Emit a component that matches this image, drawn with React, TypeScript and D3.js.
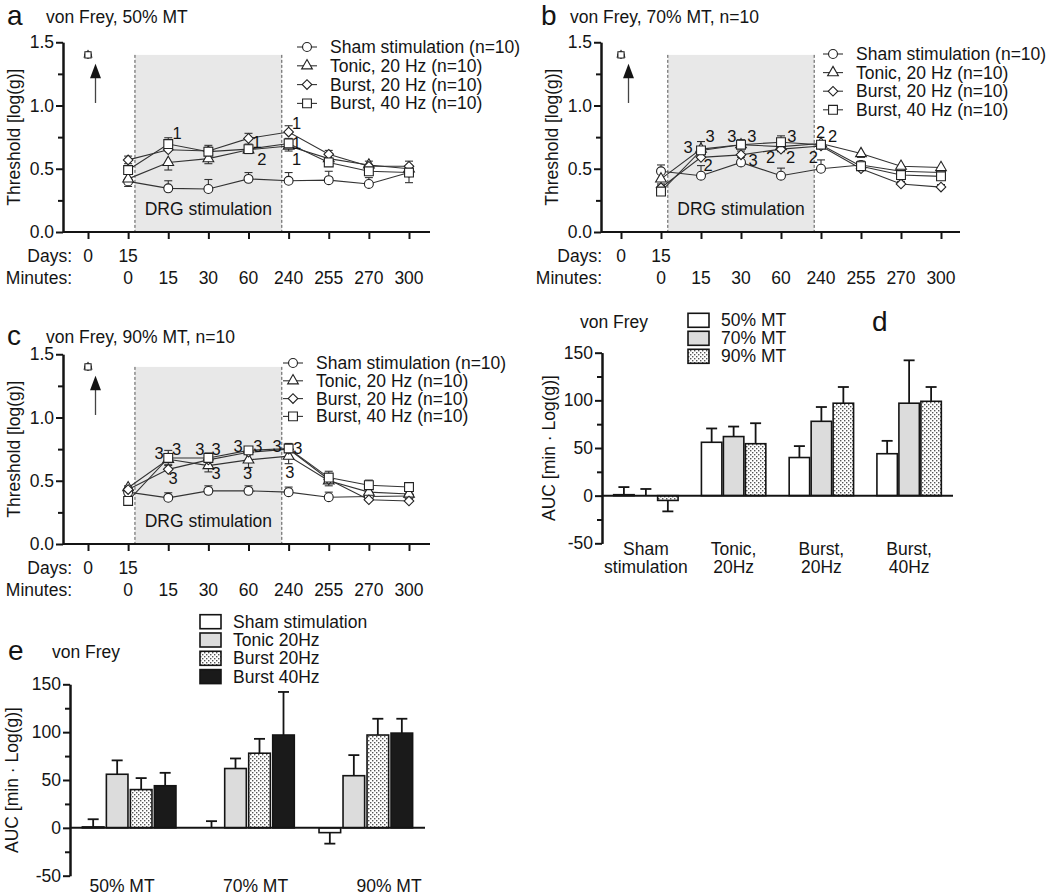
import React, { useRef, useEffect } from 'react';
import * as d3 from 'd3';

const FONT = '"Liberation Sans", Arial, Helvetica, sans-serif';
const INK = '#141414';

// x index: 0 = day 0, 1..8 = minutes 0..300 on day 15
const dayLabels = ['0', '15'];
const minuteLabels = ['0', '15', '30', '60', '240', '255', '270', '300'];
const seriesNames = ['Sham stimulation (n=10)', 'Tonic, 20 Hz (n=10)', 'Burst, 20 Hz (n=10)', 'Burst, 40 Hz (n=10)'];
const errDir = [1, -1, 1, 1]; // sham and burst SEM drawn above, tonic below
const shadeFrom = 1.17;
const shadeTo = 4.83;

// Threshold [log(g)] - 50% MT
const shamA = [1.4, 0.40, 0.345, 0.34, 0.42, 0.405, 0.41, 0.38, 0.47];
const tonicA = [1.4, 0.42, 0.55, 0.58, 0.65, 0.68, 0.58, 0.53, 0.50];
const burst20A = [1.4, 0.57, 0.65, 0.64, 0.74, 0.79, 0.615, 0.52, 0.52];
const burst40A = [1.4, 0.49, 0.695, 0.635, 0.655, 0.70, 0.55, 0.48, 0.47];
const semShamA = [0, 0.06, 0.06, 0.075, 0.05, 0.065, 0.07, 0.05, 0.05];
const semTonicA = [0, 0.06, 0.06, 0.04, 0.03, 0.04, 0.03, 0.03, 0.11];
const semBurst20A = [0, 0.03, 0.03, 0.03, 0.04, 0.05, 0.03, 0.04, 0.04];
const semBurst40A = [0, 0.05, 0.05, 0.05, 0.04, 0.04, 0.03, 0.04, 0.04];
const marksA = [
  { i: 2.22, v: 0.78, t: '1' }, { i: 4.21, v: 0.71, t: '1' }, { i: 4.33, v: 0.58, t: '2' },
  { i: 5.2, v: 0.86, t: '1' }, { i: 5.2, v: 0.705, t: '1' }, { i: 5.2, v: 0.58, t: '1' },
];

// 70% MT
const shamB = [1.4, 0.48, 0.445, 0.55, 0.445, 0.50, 0.53, 0.48, 0.47];
const tonicB = [1.4, 0.42, 0.655, 0.69, 0.675, 0.70, 0.62, 0.52, 0.51];
const burst20B = [1.4, 0.35, 0.59, 0.61, 0.655, 0.68, 0.50, 0.38, 0.355];
const burst40B = [1.4, 0.32, 0.645, 0.69, 0.71, 0.69, 0.52, 0.45, 0.44];
const semShamB = [0, 0.05, 0.08, 0.04, 0.06, 0.07, 0.03, 0.03, 0.03];
const semTonicB = [0, 0.05, 0.04, 0.03, 0.04, 0.03, 0.03, 0.03, 0.03];
const semBurst20B = [0, 0.03, 0.05, 0.03, 0.03, 0.03, 0.03, 0.02, 0.02];
const semBurst40B = [0, 0.04, 0.07, 0.04, 0.05, 0.03, 0.03, 0.04, 0.04];
const marksB = [
  { i: 1.675, v: 0.675, t: '3' }, { i: 2.225, v: 0.76, t: '3' }, { i: 2.175, v: 0.53, t: '2' },
  { i: 2.77, v: 0.76, t: '3' }, { i: 3.27, v: 0.76, t: '3' }, { i: 3.3, v: 0.57, t: '3' },
  { i: 4.27, v: 0.76, t: '3' }, { i: 3.74, v: 0.59, t: '2' }, { i: 4.24, v: 0.59, t: '2' },
  { i: 4.99, v: 0.79, t: '2' }, { i: 5.29, v: 0.76, t: '2' }, { i: 4.81, v: 0.595, t: '2' },
];

// 90% MT
const shamC = [1.4, 0.41, 0.365, 0.42, 0.42, 0.41, 0.37, 0.375, 0.38];
const tonicC = [1.4, 0.445, 0.67, 0.62, 0.665, 0.695, 0.50, 0.41, 0.395];
const burst20C = [1.4, 0.43, 0.59, 0.665, 0.725, 0.75, 0.51, 0.35, 0.34];
const burst40C = [1.4, 0.34, 0.68, 0.68, 0.74, 0.755, 0.525, 0.465, 0.45];
const semShamC = [0, 0.04, 0.04, 0.04, 0.04, 0.04, 0.04, 0.04, 0.04];
const semTonicC = [0, 0.04, 0.04, 0.05, 0.06, 0.06, 0.04, 0.04, 0.04];
const semBurst20C = [0, 0.03, 0.03, 0.03, 0.03, 0.03, 0.03, 0.03, 0.03];
const semBurst40C = [0, 0.04, 0.06, 0.04, 0.03, 0.04, 0.05, 0.04, 0.03];
const marksC = [
  { i: 1.77, v: 0.717, t: '3' }, { i: 2.21, v: 0.75, t: '3' }, { i: 2.12, v: 0.52, t: '3' },
  { i: 2.79, v: 0.75, t: '3' }, { i: 3.19, v: 0.75, t: '3' }, { i: 3.19, v: 0.56, t: '3' },
  { i: 3.74, v: 0.775, t: '3' }, { i: 4.23, v: 0.775, t: '3' }, { i: 3.98, v: 0.56, t: '3' },
  { i: 4.71, v: 0.775, t: '3' }, { i: 5.23, v: 0.76, t: '3' }, { i: 5.03, v: 0.57, t: '3' },
];

// AUC [min · Log(g)], order: sham, tonic 20Hz, burst 20Hz, burst 40Hz
const stimGroups = ['Sham\nstimulation', 'Tonic,\n20Hz', 'Burst,\n20Hz', 'Burst,\n40Hz'];
const stimLegend = ['Sham stimulation', 'Tonic 20Hz', 'Burst 20Hz', 'Burst 40Hz'];
const mtLevels = ['50% MT', '70% MT', '90% MT'];
const auc50 = [1, 56, 40, 44];
const auc70 = [0, 62, 78, 97];
const auc90 = [-5, 54.5, 97, 99];
const aucErr50 = [8, 14.5, 12, 13.5];
const aucErr70 = [7, 10.5, 15, 45];
const aucErr90 = [11.5, 21.5, 17, 15];

function symbolPath(kind, scale = 1) {
  const s = scale * scale;
  if (kind === 0) return d3.symbol(d3.symbolCircle, 62 * s)();
  if (kind === 1) return d3.symbol(d3.symbolTriangle, 50 * s)();
  if (kind === 2) return d3.symbol(d3.symbolSquare, 46 * s)();
  return d3.symbol(d3.symbolSquare, 78 * s)();
}

function drawSymbol(g, kind, cx, cy, scale = 1) {
  g.append('path')
    .attr('d', symbolPath(kind, scale))
    .attr('transform', `translate(${cx},${cy})` + (kind === 2 ? ' rotate(45)' : ''))
    .attr('fill', '#fff')
    .attr('stroke', '#222')
    .attr('stroke-width', 1.1);
}

function styleAxis(a) {
  a.attr('font-family', FONT).attr('font-size', 17.5).attr('color', INK);
  a.selectAll('line').attr('stroke-width', 2);
  a.selectAll('.domain').attr('stroke-width', 2);
}

function drawLinePanel(svg, p) {
  const x = d3.scaleLinear().domain([0, 8]).range([p.x0, p.x1]);
  const y = d3.scaleLinear().domain([0, 1.5]).range([p.yBase, p.yBase - 189.75]);
  const g = svg.append('g').attr('font-family', FONT).attr('fill', INK);

  g.append('text').attr('x', p.letterX).attr('y', p.titleY + 2).attr('font-size', 28).text(p.letter);
  g.append('text').attr('x', p.titleX).attr('y', p.titleY).attr('font-size', 17.5).text(p.title);

  // stimulation window
  g.append('rect')
    .attr('x', x(shadeFrom)).attr('y', y(1.4))
    .attr('width', x(shadeTo) - x(shadeFrom)).attr('height', y(0) - y(1.4))
    .attr('fill', '#e8e8e8');
  [shadeFrom, shadeTo].forEach(s => {
    g.append('line')
      .attr('x1', x(s)).attr('x2', x(s)).attr('y1', y(1.4)).attr('y2', y(0))
      .attr('stroke', '#555').attr('stroke-width', 1).attr('stroke-dasharray', '3,2');
  });
  g.append('text')
    .attr('x', x((shadeFrom + shadeTo) / 2)).attr('y', y(0.18))
    .attr('text-anchor', 'middle').attr('dominant-baseline', 'central')
    .attr('font-size', 17.5).text('DRG stimulation');

  // y axis
  g.append('g').attr('transform', `translate(${p.yAxisX},0)`)
    .call(d3.axisLeft(y).tickValues([0, 0.5, 1, 1.5]).tickFormat(d3.format('.1f')).tickSize(7).tickSizeOuter(0).tickPadding(2))
    .call(styleAxis);
  g.append('g').attr('transform', `translate(${p.yAxisX},0)`)
    .call(d3.axisLeft(y).tickValues([0.25, 0.75, 1.25]).tickFormat(() => '').tickSize(5).tickSizeOuter(0))
    .call(styleAxis);
  g.append('text')
    .attr('transform', `translate(${p.yAxisX - 43.5},${y(0.75)}) rotate(-90)`)
    .attr('text-anchor', 'middle').attr('font-size', 17.5).text('Threshold [log(g)]');

  // x axis
  g.append('line')
    .attr('x1', p.yAxisX).attr('x2', p.xEnd).attr('y1', y(0)).attr('y2', y(0))
    .attr('stroke', INK).attr('stroke-width', 2);
  g.append('g').attr('transform', `translate(0,${y(0)})`)
    .call(d3.axisBottom(x).tickValues(d3.range(9)).tickFormat(() => '').tickSize(7).tickSizeOuter(0))
    .call(styleAxis)
    .call(a => a.select('.domain').remove());

  g.append('text').attr('x', p.labelRight).attr('y', y(0) + 30).attr('text-anchor', 'end').attr('font-size', 17.5).text('Days:');
  g.append('text').attr('x', p.labelRight).attr('y', y(0) + 51.5).attr('text-anchor', 'end').attr('font-size', 17.5).text('Minutes:');
  dayLabels.forEach((t, i) => {
    g.append('text').attr('x', x(i)).attr('y', y(0) + 30).attr('text-anchor', 'middle').attr('font-size', 17.5).text(t);
  });
  minuteLabels.forEach((t, i) => {
    g.append('text').attr('x', x(i + 1)).attr('y', y(0) + 51.5).attr('text-anchor', 'middle').attr('font-size', 17.5).text(t);
  });

  // arrow after day-0 baseline
  const ax = x(0) + 7.5;
  g.append('line').attr('x1', ax).attr('x2', ax).attr('y1', y(1.02)).attr('y2', y(1.23))
    .attr('stroke', '#444').attr('stroke-width', 1.3);
  g.append('path')
    .attr('d', `M${ax},${y(1.33)}L${ax - 5.5},${y(1.215)}L${ax + 5.5},${y(1.215)}Z`)
    .attr('fill', INK);

  // series
  const line = d3.line().x(d => x(d.i)).y(d => y(d.v));
  const pts = p.series.map((vals, s) => vals.map((v, i) => ({ i, v, e: p.sems[s][i] })));
  pts.forEach(ps => {
    g.append('path').attr('d', line(ps.slice(1))).attr('fill', 'none').attr('stroke', '#333').attr('stroke-width', 1.1);
  });
  pts.forEach((ps, s) => {
    ps.slice(1).forEach(d => {
      const end = d.v + errDir[s] * d.e;
      g.append('line').attr('x1', x(d.i)).attr('x2', x(d.i)).attr('y1', y(d.v)).attr('y2', y(end))
        .attr('stroke', '#333').attr('stroke-width', 1.1);
      g.append('line').attr('x1', x(d.i) - 4).attr('x2', x(d.i) + 4).attr('y1', y(end)).attr('y2', y(end))
        .attr('stroke', '#333').attr('stroke-width', 1.1);
    });
  });
  pts.forEach((ps, s) => {
    ps.forEach(d => drawSymbol(g, s, x(d.i), y(d.v), d.i === 0 ? 0.7 : 1));
  });

  p.marks.forEach(m => {
    g.append('text').attr('x', x(m.i)).attr('y', y(m.v))
      .attr('text-anchor', 'middle').attr('dominant-baseline', 'central')
      .attr('font-size', 16.5).text(m.t);
  });

  // legend
  seriesNames.forEach((name, s) => {
    const ly = p.legendY + s * p.legendDy;
    g.append('line').attr('x1', p.legendX - 10).attr('x2', p.legendX + 10).attr('y1', ly).attr('y2', ly)
      .attr('stroke', '#333').attr('stroke-width', 1.1);
    drawSymbol(g, s, p.legendX, ly);
    g.append('text').attr('x', p.legendX + 23).attr('y', ly).attr('dominant-baseline', 'central')
      .attr('font-size', 17.5).text(name);
  });
}

function drawBarPanel(svg, p) {
  const y = d3.scaleLinear().domain([-50, 150]).range([p.yBottom, p.yTop]);
  const x0 = d3.scaleBand().domain(p.groups).range([p.yAxisX, p.xEnd]);
  const x1 = d3.scaleBand().domain(p.keys).range([-p.half, p.half]).paddingInner(p.padInner);
  const g = svg.append('g').attr('font-family', FONT).attr('fill', INK);

  if (p.letter) g.append('text').attr('x', p.letterX).attr('y', p.letterY).attr('font-size', 28).text(p.letter);
  g.append('text').attr('x', p.titleX).attr('y', p.titleY).attr('font-size', 17.5).text('von Frey');

  // bars
  p.groups.forEach((grp, gi) => {
    const cx = x0(grp) + x0.bandwidth() / 2;
    p.keys.forEach((key, ki) => {
      const v = p.values[ki][gi];
      const e = p.errs[ki][gi];
      const bx = cx + x1(key);
      g.append('rect')
        .attr('x', bx).attr('y', y(Math.max(v, 0)))
        .attr('width', x1.bandwidth()).attr('height', Math.abs(y(v) - y(0)))
        .attr('fill', p.fills[ki]).attr('stroke', INK).attr('stroke-width', 1.6);
      const end = v >= 0 ? v + e : v - e;
      const mx = bx + x1.bandwidth() / 2;
      g.append('line').attr('x1', mx).attr('x2', mx).attr('y1', y(v)).attr('y2', y(end))
        .attr('stroke', INK).attr('stroke-width', 1.8);
      g.append('line').attr('x1', mx - 5.5).attr('x2', mx + 5.5).attr('y1', y(end)).attr('y2', y(end))
        .attr('stroke', INK).attr('stroke-width', 1.8);
    });
  });

  // axes
  g.append('g').attr('transform', `translate(${p.yAxisX},0)`)
    .call(d3.axisLeft(y).tickValues([-50, 0, 50, 100, 150]).tickFormat(d => String(d)).tickSize(7).tickSizeOuter(0).tickPadding(2))
    .call(styleAxis);
  g.append('g').attr('transform', `translate(${p.yAxisX},0)`)
    .call(d3.axisLeft(y).tickValues([-25, 25, 75, 125]).tickFormat(() => '').tickSize(5).tickSizeOuter(0))
    .call(styleAxis);
  g.append('line').attr('x1', p.yAxisX).attr('x2', p.xEnd).attr('y1', y(0)).attr('y2', y(0))
    .attr('stroke', INK).attr('stroke-width', 2);
  g.append('text')
    .attr('transform', `translate(${p.yAxisX - p.labelGap},${y(50)}) rotate(-90)`)
    .attr('text-anchor', 'middle').attr('font-size', 17.5).text('AUC [min · Log(g)]');

  // group labels
  p.groups.forEach((grp, gi) => {
    const lx = p.labelPos ? p.labelPos(grp) : x0(grp) + x0.bandwidth() / 2;
    grp.split('\n').forEach((ln, li) => {
      g.append('text').attr('x', lx).attr('y', p.labelY + li * 18)
        .attr('text-anchor', 'middle').attr('font-size', 17.5).text(ln);
    });
  });

  // legend
  p.legend.forEach((name, ki) => {
    const ly = p.legendY + ki * p.legendDy;
    g.append('rect').attr('x', p.legendX).attr('y', ly - 7).attr('width', 21).attr('height', 14)
      .attr('fill', p.fills[ki]).attr('stroke', INK).attr('stroke-width', 1.6);
    g.append('text').attr('x', p.legendX + 33).attr('y', ly).attr('dominant-baseline', 'central')
      .attr('font-size', 17.5).text(name);
  });
}

const App = () => {
  const svgRef = useRef(null);

  useEffect(() => {
    const svg = d3.select(svgRef.current);
    svg.selectAll('*').remove();

    const pat = svg.append('defs').append('pattern')
      .attr('id', 'dots').attr('width', 4).attr('height', 4).attr('patternUnits', 'userSpaceOnUse');
    pat.append('rect').attr('width', 4).attr('height', 4).attr('fill', '#fff');
    pat.append('rect').attr('x', 0).attr('y', 0).attr('width', 1.4).attr('height', 1.4).attr('fill', '#555');
    pat.append('rect').attr('x', 2).attr('y', 2).attr('width', 1.4).attr('height', 1.4).attr('fill', '#555');

    drawLinePanel(svg, {
      letter: 'a', letterX: 7, titleX: 46, titleY: 23, title: 'von Frey, 50% MT',
      yAxisX: 63, x0: 88, x1: 409, xEnd: 430, yBase: 232, labelRight: 72,
      legendX: 307, legendY: 47, legendDy: 18.8,
      series: [shamA, tonicA, burst20A, burst40A],
      sems: [semShamA, semTonicA, semBurst20A, semBurst40A],
      marks: marksA,
    });
    drawLinePanel(svg, {
      letter: 'b', letterX: 541, titleX: 570, titleY: 23, title: 'von Frey, 70% MT, n=10',
      yAxisX: 601, x0: 621, x1: 941, xEnd: 960, yBase: 232, labelRight: 602,
      legendX: 833, legendY: 54, legendDy: 18.6,
      series: [shamB, tonicB, burst20B, burst40B],
      sems: [semShamB, semTonicB, semBurst20B, semBurst40B],
      marks: marksB,
    });
    drawLinePanel(svg, {
      letter: 'c', letterX: 7, titleX: 46, titleY: 343, title: 'von Frey, 90% MT, n=10',
      yAxisX: 63, x0: 88, x1: 409, xEnd: 430, yBase: 544, labelRight: 72,
      legendX: 293, legendY: 363, legendDy: 17.8,
      series: [shamC, tonicC, burst20C, burst40C],
      sems: [semShamC, semTonicC, semBurst20C, semBurst40C],
      marks: marksC,
    });

    const byMt = [auc50, auc70, auc90];
    const errByMt = [aucErr50, aucErr70, aucErr90];

    drawBarPanel(svg, {
      letter: 'd', letterX: 872, letterY: 331, titleX: 580, titleY: 328,
      yAxisX: 602, xEnd: 953, yTop: 352.7, yBottom: 543.3, labelGap: 47,
      groups: stimGroups, keys: mtLevels, half: 32.2, padInner: 0.07,
      values: byMt, errs: errByMt,
      fills: ['#fff', '#dcdcdc', 'url(#dots)'],
      labelY: 555,
      legend: mtLevels, legendX: 688, legendY: 320.3, legendDy: 18,
    });

    const eScale = d3.scalePoint().domain(mtLevels).range([122, 389]);
    drawBarPanel(svg, {
      letter: 'e', letterX: 8, letterY: 660, titleX: 52, titleY: 658,
      yAxisX: 70, xEnd: 425, yTop: 684.3, yBottom: 875.7, labelGap: 52,
      groups: mtLevels, keys: stimLegend, half: 46.8, padInner: 0.1,
      values: stimLegend.map((_, k) => byMt.map(arr => arr[k])),
      errs: stimLegend.map((_, k) => errByMt.map(arr => arr[k])),
      fills: ['#fff', '#dcdcdc', 'url(#dots)', '#1a1a1a'],
      labelY: 892, labelPos: eScale,
      legend: stimLegend, legendX: 200, legendY: 621.7, legendDy: 18.3,
    });
  }, []);

  return (
    <svg ref={svgRef} width={1050} height={895} style={{ position: 'absolute', left: 0, top: 0, background: '#fff' }}></svg>
  );
};

export default App;
